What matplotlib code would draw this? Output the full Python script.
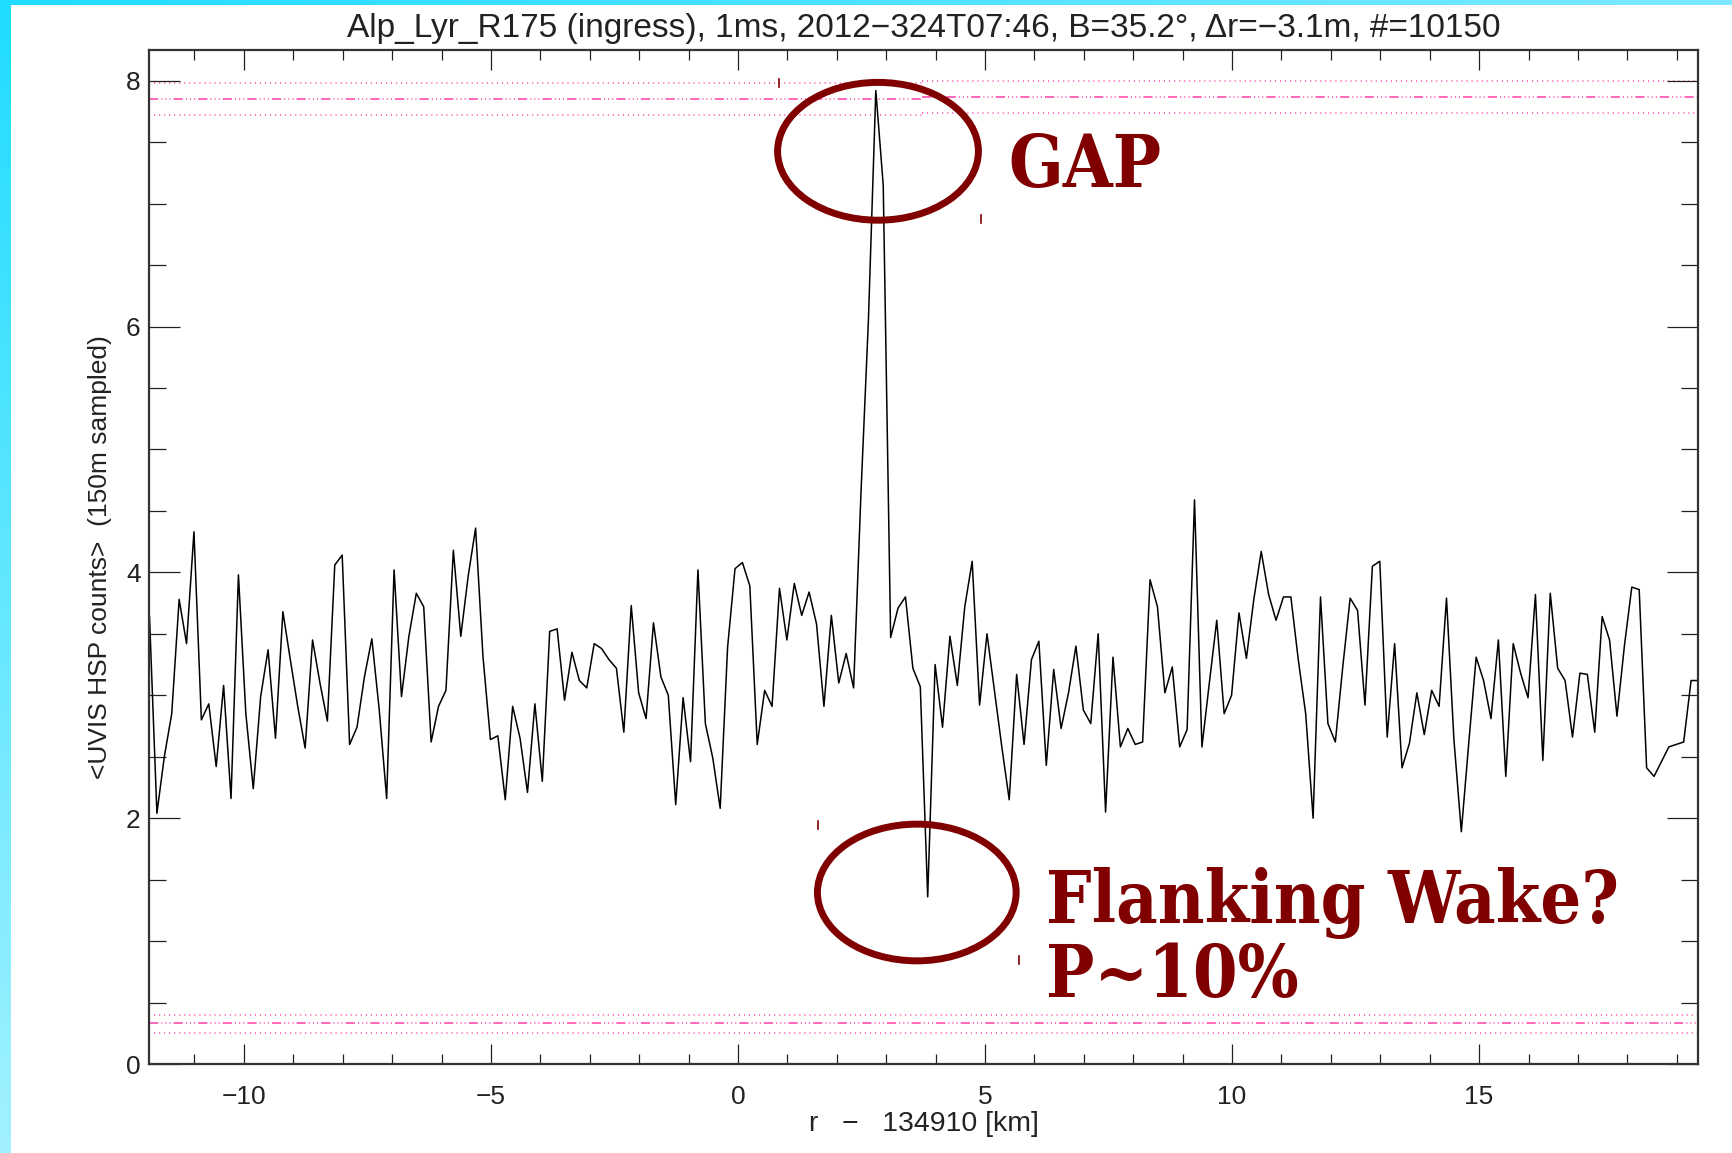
import numpy as np
import matplotlib
matplotlib.use('Agg')
import matplotlib.pyplot as plt
from matplotlib.patches import Ellipse
from matplotlib.lines import Line2D
from matplotlib.colors import LinearSegmentedColormap
from matplotlib import font_manager

# UVIS HSP counts, 150 m bins starting at r_start (km from 134910)
r_start = -11.91
r_step = 0.15
counts = [
    3.64, 2.04, 2.50, 2.85, 3.78, 3.42, 4.33, 2.80, 2.93, 2.42,
    3.08, 2.16, 3.98, 2.85, 2.24, 2.99, 3.37, 2.65, 3.68, 3.29,
    2.91, 2.57, 3.45, 3.10, 2.79, 4.06, 4.14, 2.60, 2.74, 3.15,
    3.46, 2.88, 2.16, 4.02, 2.99, 3.48, 3.83, 3.72, 2.62, 2.91,
    3.04, 4.18, 3.48, 3.97, 4.36, 3.31, 2.64, 2.67, 2.15, 2.91,
    2.65, 2.21, 2.93, 2.30, 3.52, 3.54, 2.96, 3.35, 3.12, 3.06,
    3.42, 3.38, 3.29, 3.22, 2.70, 3.73, 3.02, 2.81, 3.59, 3.15,
    3.00, 2.11, 2.98, 2.46, 4.02, 2.77, 2.49, 2.08, 3.39, 4.03,
    4.08, 3.89, 2.60, 3.04, 2.91, 3.87, 3.45, 3.91, 3.65, 3.84,
    3.58, 2.91, 3.65, 3.10, 3.34, 3.06, 4.65, 6.05, 7.92, 7.15,
    3.47, 3.71, 3.80, 3.22, 3.07, 1.36, 3.25, 2.74, 3.48, 3.08,
    3.72, 4.09, 2.92, 3.50, 3.04, 2.58, 2.15, 3.17, 2.60, 3.29,
    3.44, 2.43, 3.21, 2.73, 3.02, 3.40, 2.88, 2.77, 3.50, 2.05,
    3.31, 2.58, 2.73, 2.60, 2.62, 3.94, 3.72, 3.02, 3.23, 2.58,
    2.72, 4.59, 2.58, 3.10, 3.61, 2.85, 3.00, 3.67, 3.30, 3.78,
    4.17, 3.82, 3.61, 3.80, 3.80, 3.29, 2.85, 2.00, 3.80, 2.77,
    2.62, 3.23, 3.79, 3.69, 2.92, 4.05, 4.09, 2.66, 3.42, 2.41,
    2.61, 3.02, 2.68, 3.04, 2.91, 3.79, 2.64, 1.89, 2.61, 3.31,
    3.12, 2.81, 3.45, 2.34, 3.42, 3.18, 2.98, 3.82, 2.47, 3.83,
    3.22, 3.12, 2.66, 3.18, 3.17, 2.70, 3.64, 3.45, 2.83, 3.40,
    3.88, 3.86, 2.41, 2.34, 2.46, 2.58, 2.60, 2.62, 3.12, 3.12,
]

# threshold levels: (low dotted, dash-dot, high dotted)
upper_split = 3.73
upper_left = [7.72, 7.85, 7.98]
upper_right = [7.74, 7.87, 8.00]
lower_band = [0.25, 0.334, 0.40]

x_range = (-11.92, 19.43)
y_range = (0.0, 8.25)
x_ticks = [-10, -5, 0, 5, 10, 15]
y_ticks = [0, 2, 4, 6, 8]

title = 'Alp_Lyr_R175 (ingress), 1ms, 2012\u2212324T07:46, B=35.2\u00b0, \u0394r=\u22123.1m, #=10150'
xlabel = 'r   \u2212   134910 [km]'
ylabel = '<UVIS HSP counts>  (150m sampled)'

r = r_start + r_step * np.arange(len(counts))

W, H = 1732, 1153
available = {f.name for f in font_manager.fontManager.ttflist}
sans = 'Liberation Sans' if 'Liberation Sans' in available else 'DejaVu Sans'
plt.rcParams['font.family'] = [sans, 'DejaVu Sans']

fig = plt.figure(figsize=(W / 100, H / 100), dpi=100, facecolor='white')

# cyan slide edge along the left and top
bg = fig.add_axes([0, 0, 1, 1], zorder=-5)
edge_v = LinearSegmentedColormap.from_list('edge_v', ['#a2f1ff', '#1fdcff'])
edge_h = LinearSegmentedColormap.from_list('edge_h', ['#1fdcff', '#7ce9ff'])
bg.imshow(np.linspace(0, 1, 256).reshape(-1, 1), extent=[0, 11 / W, 0, 1],
          aspect='auto', cmap=edge_v, origin='lower')
bg.imshow(np.linspace(0, 1, 256).reshape(1, -1), extent=[0, 1, 1 - 5 / H, 1],
          aspect='auto', cmap=edge_h)
bg.set_xlim(0, 1)
bg.set_ylim(0, 1)
bg.axis('off')

ax = fig.add_axes([149 / W, 1 - 1064 / H, (1698 - 149) / W, (1064 - 50) / H])

pink = '#ff3fa6'
dots = (0, (0.7, 2.6))
dashdots = (0, (6.0, 2.0, 0.7, 2.0, 0.7, 2.0, 0.7, 2.0))
for levels, x0, x1 in [(upper_left, x_range[0], upper_split),
                       (upper_right, upper_split, x_range[1]),
                       (lower_band, x_range[0], x_range[1])]:
    ax.plot([x0, x1], [levels[0]] * 2, color=pink, lw=1.1, ls=dots, zorder=1)
    ax.plot([x0, x1], [levels[1]] * 2, color=pink, lw=1.1, ls=dashdots, zorder=1)
    ax.plot([x0, x1], [levels[2]] * 2, color=pink, lw=1.1, ls=dots, zorder=1)

ax.plot(r, counts, color='black', lw=1.1, zorder=2)

ax.set_xlim(*x_range)
ax.set_ylim(*y_range)
ax.set_xticks(x_ticks)
ax.set_xticks(np.arange(-11, 20, 1), minor=True)
ax.set_yticks(y_ticks)
ax.set_yticks(np.arange(0, 8.5, 0.5), minor=True)

tick_color = '#222222'
ax.tick_params(which='both', direction='in', top=True, right=True,
               color=tick_color, width=0.9, labelcolor='#222222', labelsize=19)
ax.tick_params(axis='x', which='major', length=14.5, pad=15)
ax.tick_params(axis='x', which='minor', length=7.2)
ax.tick_params(axis='y', which='major', length=22, pad=6)
ax.tick_params(axis='y', which='minor', length=12)
for s in ax.spines.values():
    s.set_color('#333333')
    s.set_linewidth(1.6)

ax_cx = (149 + 1698) / 2 / W
fig.text(ax_cx, 1 - 37 / H, title, ha='center', va='baseline',
         fontsize=24, color='#222222')
fig.text(ax_cx, 1 - 1131 / H, xlabel, ha='center', va='baseline',
         fontsize=20.5, color='#222222')
fig.text(100 / W, 1 - 557 / H, ylabel, rotation=90, ha='center', va='center',
         fontsize=19, color='#222222')

# hand-drawn call-outs
dark_red = '#800000'
for cx, cy, w, h in [(878, 151.3, 200.8, 137.8), (916.8, 892.5, 198.7, 136.7)]:
    fig.add_artist(Ellipse((cx / W, 1 - cy / H), w / W, h / H, fill=False,
                           ec=dark_red, lw=5, transform=fig.transFigure))
    # little corner handles left over from the drawing tool
    x_l, x_r = cx - w / 2 - 1, cx + w / 2 + 3
    y_t, y_b = cy - h / 2 - 3, cy + h / 2 + 3
    fig.add_artist(Line2D([(x_l + 2) / W] * 2, [1 - y_t / H, 1 - (y_t + 8) / H],
                          color=dark_red, lw=1.2, transform=fig.transFigure))
    fig.add_artist(Line2D([x_r / W] * 2, [1 - y_b / H, 1 - (y_b - 8) / H],
                          color=dark_red, lw=1.2, transform=fig.transFigure))

serif = dict(family='DejaVu Serif', weight='bold', stretch='condensed',
             color=dark_red, fontsize=51.5)
fig.text(1008 / W, 1 - 187 / H, 'GAP', ha='left', va='baseline', **serif)
fig.text(1046 / W, 1 - 923 / H, 'Flanking Wake?', ha='left', va='baseline', **serif)
fig.text(1046 / W, 1 - 997 / H, 'P~10%', ha='left', va='baseline', **serif)

fig.savefig('out.png', dpi=100, facecolor='white')
